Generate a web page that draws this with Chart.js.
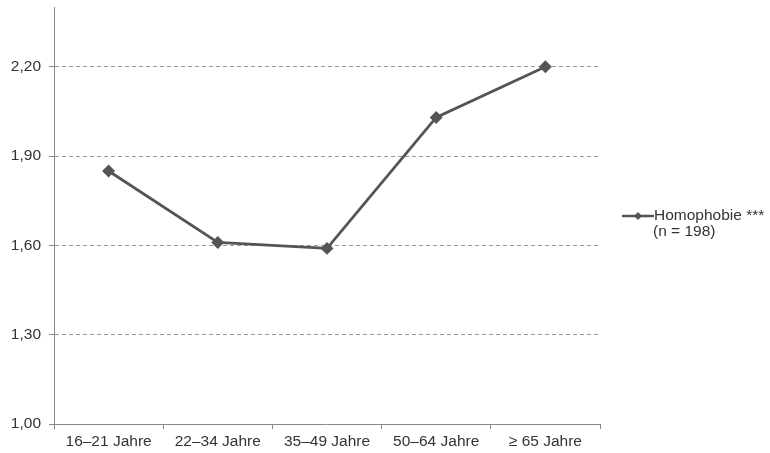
<!DOCTYPE html>
<html>
<head>
<meta charset="utf-8">
<script src="https://cdn.jsdelivr.net/npm/chart.js@4"></script>
<style>
  html, body { margin: 0; padding: 0; background: #fff; }
  #wrap { width: 770px; height: 453px; }
</style>
</head>
<body>
<div id="wrap"><canvas id="myChart" width="770" height="453"></canvas></div>
<script>
const categories = ['16\u201321 Jahre', '22\u201334 Jahre', '35\u201349 Jahre', '50\u201364 Jahre', '\u2265 65 Jahre'];
const homophobie = [1.85, 1.61, 1.59, 2.03, 2.20];
const yTicks = [1.00, 1.30, 1.60, 1.90, 2.20];
const legendLines = ['Homophobie ***', '(n = 198)'];

const lineColor = '#555555';
const textColor = '#333333';
const font = { family: 'Liberation Sans, Arial, sans-serif', size: 15.5 };

// legend drawn by hand, right of the plot (two text lines)
const sideLegend = {
    id: 'sideLegend',
    afterDraw(chart) {
        const c = chart.ctx;
        const x0 = chart.chartArea.right + 22;
        const y0 = 216;
        c.save();
        c.strokeStyle = lineColor;
        c.lineWidth = 2.5;
        c.beginPath();
        c.moveTo(x0, y0);
        c.lineTo(x0 + 32, y0);
        c.stroke();
        c.fillStyle = lineColor;
        c.beginPath();
        c.moveTo(x0 + 16, y0 - 4);
        c.lineTo(x0 + 20, y0);
        c.lineTo(x0 + 16, y0 + 4);
        c.lineTo(x0 + 12, y0);
        c.closePath();
        c.fill();
        c.fillStyle = textColor;
        c.font = font.size + 'px ' + font.family;
        c.textBaseline = 'middle';
        c.fillText(legendLines[0], x0 + 32, y0);
        c.fillText(legendLines[1], x0 + 31, y0 + 16);
        c.restore();
    }
};

const ctx = document.getElementById('myChart');

let chart = new Chart(ctx, {
    type: 'line',
    data: {
        labels: categories,
        datasets: [{
            label: legendLines[0],
            data: homophobie,
            borderColor: lineColor,
            backgroundColor: lineColor,
            borderWidth: 2.8,
            pointStyle: 'rectRot',
            pointRadius: 4.5,
            pointHoverRadius: 4.5,
            tension: 0
        }]
    },
    options: {
        responsive: false,
        animation: false,
        layout: { padding: { top: 7, right: 170, left: 0, bottom: 0 } },
        plugins: {
            legend: { display: false },
            tooltip: { enabled: false }
        },
        scales: {
            x: {
                offset: true,
                grid: {
                    offset: true,
                    drawOnChartArea: false,
                    tickLength: 5,
                    tickColor: '#888'
                },
                border: { color: '#888', width: 1 },
                ticks: { color: textColor, font: font, padding: 3, maxRotation: 0 },
                afterFit(scale) { scale.height = 29; }
            },
            y: {
                min: 1.0,
                max: 2.4,
                afterBuildTicks(scale) {
                    scale.ticks = yTicks.map(v => ({ value: v }));
                },
                grid: {
                    color: (c) => c.tick && c.tick.value === 1.0 ? 'rgba(0,0,0,0)' : '#999',
                    lineWidth: 1,
                    tickLength: 5,
                    tickColor: '#888',
                    tickBorderDash: []
                },
                border: { color: '#888', width: 1, dash: [4, 3] },
                ticks: {
                    color: textColor,
                    font: font,
                    padding: 8,
                    callback: (v) => Number(v).toFixed(2).replace('.', ',')
                },
                afterFit(scale) {
                    scale.width = 54;
                    scale.paddingTop = 0;
                    scale.paddingBottom = 0;
                }
            }
        }
    },
    plugins: [sideLegend]
});
</script>
</body>
</html>
